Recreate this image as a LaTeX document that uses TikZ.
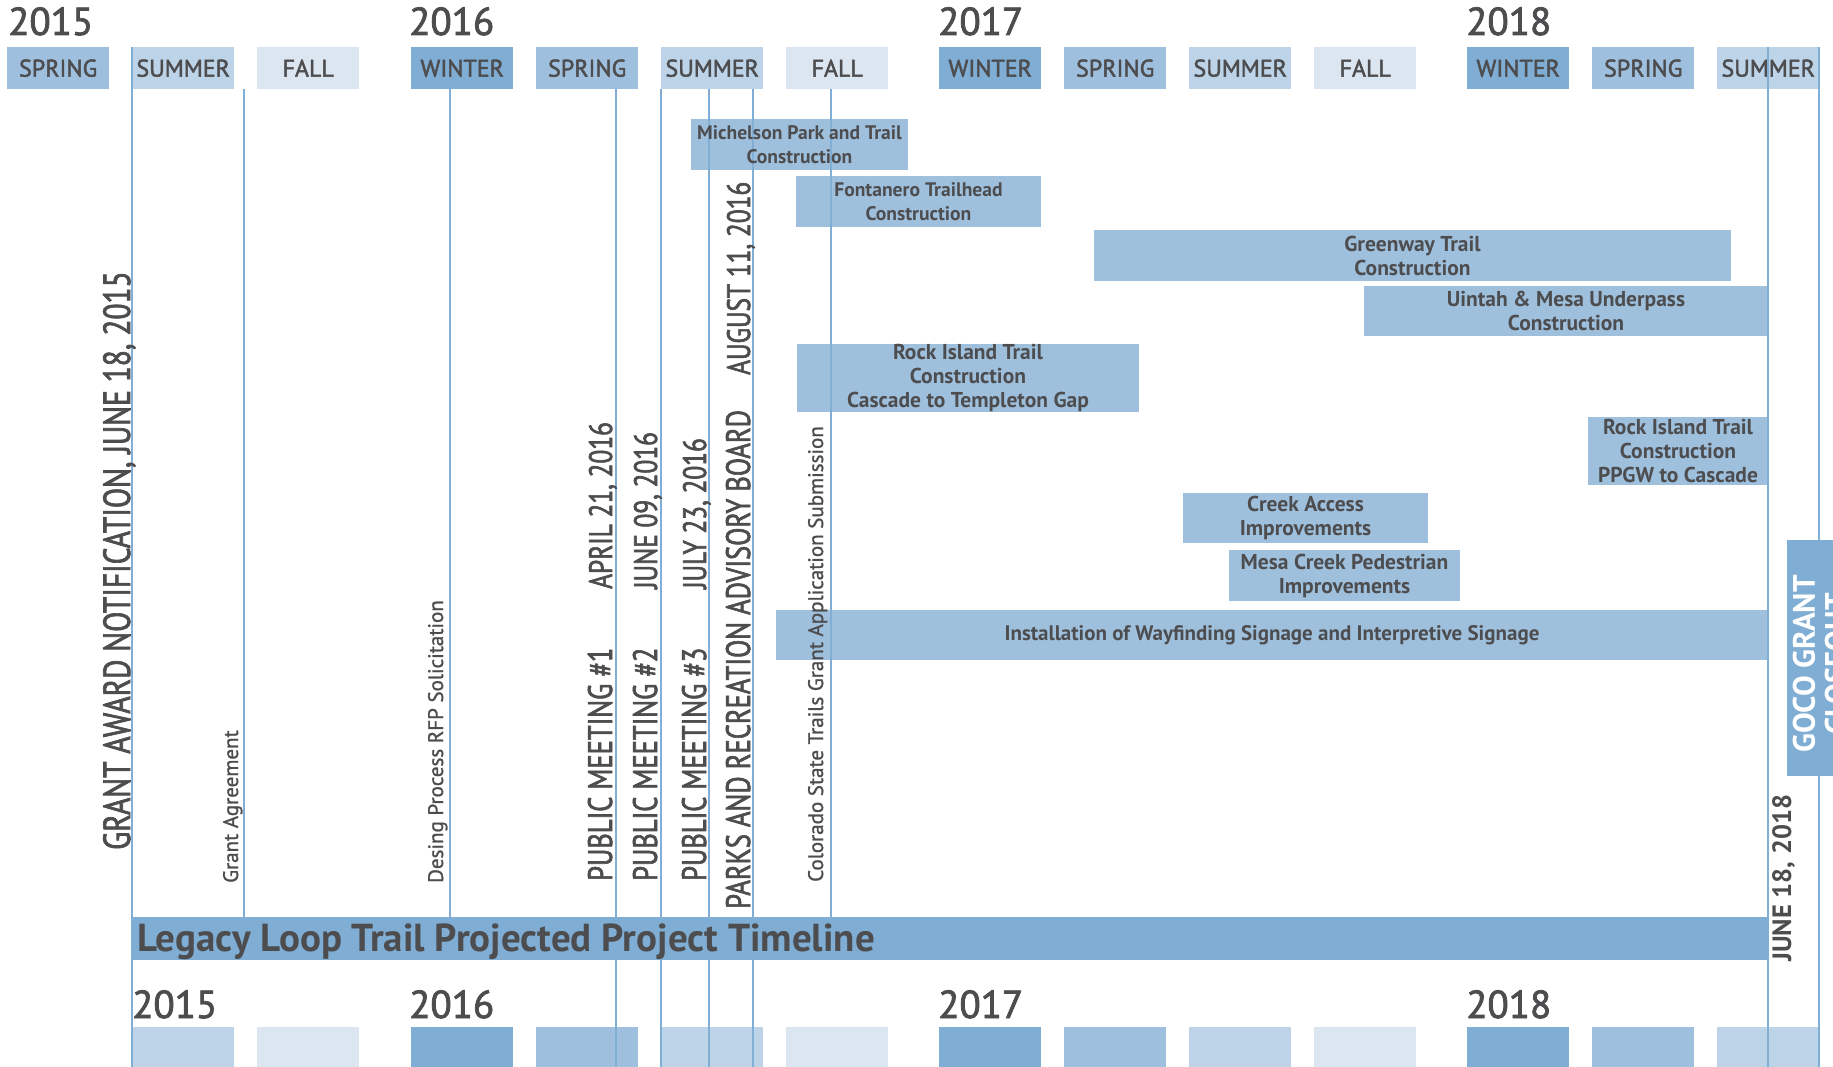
\documentclass[tikz,border=0pt]{standalone}
\usepackage{fontspec}
\setmainfont{PT Sans}
\newfontfamily\condf[FakeStretch=0.78,FakeBold=1.8]{PT Sans}
\newfontfamily\medf[FakeBold=2]{PT Sans}
\newfontfamily\smf[FakeBold=1.2]{PT Sans}
\definecolor{winter}{RGB}{127,173,211}
\definecolor{spring}{RGB}{158,191,221}
\definecolor{summer}{RGB}{188,211,232}
\definecolor{fall}{RGB}{219,230,241}
\definecolor{barc}{RGB}{159,192,221}
\definecolor{linec}{RGB}{128,174,212}
\definecolor{txt}{RGB}{77,77,79}
\tikzset{
  season/.style={inner sep=0, minimum width=102pt, minimum height=42pt, anchor=north west, text=txt, font=\medf\fontsize{24}{28}\selectfont},
  bseason/.style={inner sep=0, minimum width=102pt, minimum height=42pt, anchor=north west},
  year/.style={inner sep=0, anchor=base west, text=txt, font=\medf\fontsize{39}{42}\selectfont},
  taskbar/.style={fill=barc, inner sep=0},
  tasktext/.style={inner sep=0, text=txt, align=center, font=\bfseries\fontsize{21.5}{24}\selectfont},
  tasksmall/.style={tasktext, font=\bfseries\fontsize{19.6}{24}\selectfont},
  vlab/.style={rotate=90, anchor=base west, inner sep=0, text=txt},
  biglab/.style={vlab, font=\condf\fontsize{37.8}{38}\selectfont},
  midlab/.style={vlab, font=\condf\fontsize{34}{34}\selectfont},
  datelab/.style={vlab, font=\condf\fontsize{32.5}{33}\selectfont},
  smalllab/.style={vlab, font=\smf\fontsize{21}{21}\selectfont},
  tl/.style={draw=linec, line width=2.6pt},
}
\begin{document}
\begin{tikzpicture}[x=1pt,y=-1pt]
\useasboundingbox (0,0) rectangle (1833,1067);
\clip (0,0) rectangle (1833,1067);
\fill[white] (0,0) rectangle (1833,1067);

% years top
\node[year] (y15) at (8,35) {2015};
\node[year] (y16) at (409,35) {2016};
\node[year] (y17) at (938,35) {2017};
\node[year] (y18) at (1466,35) {2018};
% seasons top
\node[season, fill=spring] (a1) at (7,47) {SPRING};
\node[season, fill=summer] (a2) at (132,47) {SUMMER};
\node[season, fill=fall] (a3) at (257,47) {FALL};
\node[season, fill=winter] (a4) at (411,47) {WINTER};
\node[season, fill=spring] (a5) at (536,47) {SPRING};
\node[season, fill=summer] (a6) at (661,47) {SUMMER};
\node[season, fill=fall] (a7) at (786,47) {FALL};
\node[season, fill=winter] (a8) at (939,47) {WINTER};
\node[season, fill=spring] (a9) at (1064,47) {SPRING};
\node[season, fill=summer] (a10) at (1189,47) {SUMMER};
\node[season, fill=fall] (a11) at (1314,47) {FALL};
\node[season, fill=winter] (a12) at (1467,47) {WINTER};
\node[season, fill=spring] (a13) at (1592,47) {SPRING};
\node[season, fill=summer] (a14) at (1717,47) {SUMMER};

% years bottom
\node[year] (z15) at (132,1018) {2015};
\node[year] (z16) at (409,1018) {2016};
\node[year] (z17) at (938,1018) {2017};
\node[year] (z18) at (1466,1018) {2018};
% seasons bottom
\node[bseason, fill=summer] (b2) at (132,1027) {};
\node[bseason, fill=fall] (b3) at (257,1027) {};
\node[bseason, fill=winter] (b4) at (411,1027) {};
\node[bseason, fill=spring] (b5) at (536,1027) {};
\node[bseason, fill=summer] (b6) at (661,1027) {};
\node[bseason, fill=fall] (b7) at (786,1027) {};
\node[bseason, fill=winter] (b8) at (939,1027) {};
\node[bseason, fill=spring] (b9) at (1064,1027) {};
\node[bseason, fill=summer] (b10) at (1189,1027) {};
\node[bseason, fill=fall] (b11) at (1314,1027) {};
\node[bseason, fill=winter] (b12) at (1467,1027) {};
\node[bseason, fill=spring] (b13) at (1592,1027) {};
\node[bseason, fill=summer] (b14) at (1717,1027) {};

% title bar
\node[fill=winter, inner sep=0, minimum width=1636pt, minimum height=43pt] (tbar) at (950,938.5) {};

% task bars
\node[taskbar, minimum width=217pt, minimum height=51pt] (mich) at (799.5,144.5) {};
\node[taskbar, minimum width=245pt, minimum height=51pt] (font) at (918.5,201.5) {};
\node[taskbar, minimum width=637pt, minimum height=51pt] (green) at (1412.5,255.5) {};
\node[taskbar, minimum width=404pt, minimum height=50pt] (uint) at (1566,311) {};
\node[taskbar, minimum width=342pt, minimum height=68pt] (rockc) at (968,378) {};
\node[taskbar, minimum width=180pt, minimum height=68pt] (rockp) at (1678,451) {};
\node[taskbar, minimum width=245pt, minimum height=50pt] (creek) at (1305.5,518) {};
\node[taskbar, minimum width=231pt, minimum height=51pt] (mesa) at (1344.5,575.5) {};
\node[taskbar, minimum width=992pt, minimum height=50pt] (way) at (1272,635) {};

% timeline lines
\draw[tl] (132,47) -- (132,1067);
\draw[tl] (244,89) -- (244,918);
\draw[tl] (450,89) -- (450,918);
\draw[tl] (616,89) -- (616,1067);
\draw[tl] (661,89) -- (661,1067);
\draw[tl] (709,89) -- (709,1067);
\draw[tl] (753,89) -- (753,1067);
\draw[tl] (831,89) -- (831,918);
\draw[tl] (1768,47) -- (1768,1067);
\draw[tl] (1819,47) -- (1819,1067);

% task texts
\node[tasksmall] (michT) at (mich) {Michelson Park and Trail\\Construction};
\node[tasksmall] (fontT) at (font) {Fontanero Trailhead\\Construction};
\node[tasktext] (greenT) at (green) {Greenway Trail\\Construction};
\node[tasktext] (uintT) at (uint) {Uintah \& Mesa Underpass\\Construction};
\node[tasktext] (rockcT) at (rockc) {Rock Island Trail\\Construction\\Cascade to Templeton Gap};
\node[tasktext] (rockpT) at (rockp) {Rock Island Trail\\Construction\\PPGW to Cascade};
\node[tasktext] (creekT) at (creek) {Creek Access\\Improvements};
\node[tasktext] (mesaT) at (mesa) {Mesa Creek Pedestrian\\Improvements};
\node[tasktext, font=\bfseries\fontsize{21}{24}\selectfont] (wayT) at (way) {Installation of Wayfinding Signage and Interpretive Signage};

% title
\node[inner sep=0, anchor=base west, text=txt, font=\bfseries\fontsize{39}{39}\selectfont] (title) at (137,951) {Legacy Loop Trail Projected Project Timeline};

% vertical labels
\node[biglab] (grant) at (130,850) {GRANT AWARD NOTIFICATION, JUNE 18, 2015};
\node[smalllab] (agree) at (238,883) {Grant Agreement};
\node[smalllab] (rfp) at (443,883) {Desing Process RFP Solicitation};
\node[midlab] (pm1) at (612,881) {PUBLIC MEETING \#1};
\node[datelab] (pm1d) at (612,589) {APRIL 21, 2016};
\node[midlab] (pm2) at (657,881) {PUBLIC MEETING \#2};
\node[datelab] (pm2d) at (657,589) {JUNE 09, 2016};
\node[midlab] (pm3) at (706,881) {PUBLIC MEETING \#3};
\node[datelab] (pm3d) at (706,589) {JULY 23, 2016};
\node[midlab] (parks) at (750,909) {PARKS AND RECREATION ADVISORY BOARD};
\node[datelab] (parksd) at (750,375) {AUGUST 11, 2016};
\node[smalllab] (colo) at (823,882) {Colorado State Trails Grant Application Submission};
\node[vlab, font=\bfseries\fontsize{26.5}{26.5}\selectfont] (june) at (1791,962) {JUNE 18, 2018};

% closeout
\node[fill=winter, inner sep=0, minimum width=66pt, minimum height=236pt] (goco) at (1820,658) {};
\node[rotate=90, inner sep=0, text=white, align=center, font=\bfseries\fontsize{31}{32}\selectfont] (gocoT) at (1820,664) {GOCO GRANT\\CLOSEOUT};
\end{tikzpicture}
\end{document}
